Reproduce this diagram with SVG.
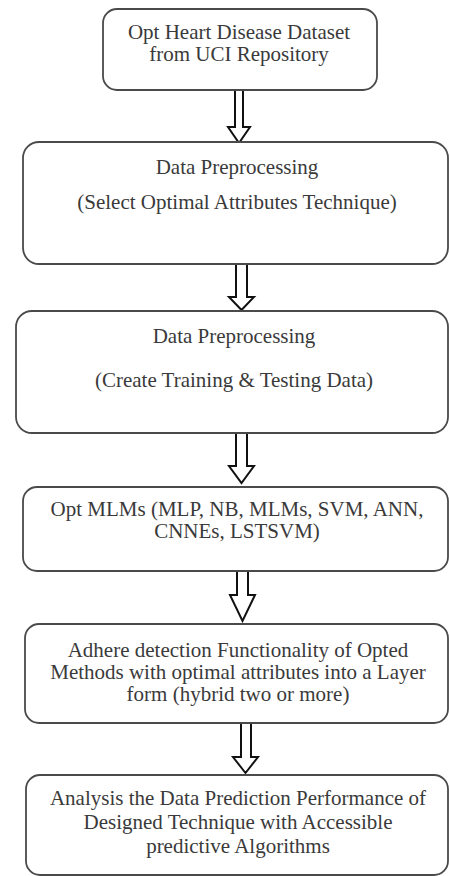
<svg xmlns="http://www.w3.org/2000/svg" width="449" height="876" viewBox="0 0 449 876">
  <style>
    .box { fill: #ffffff; stroke: #4a4a4a; stroke-width: 1.8; }
    .lbl { font-family: "Liberation Serif", "Times New Roman", serif; font-size: 21px; fill: #3a3a3a; text-anchor: middle; }
    .arrow { fill: #ffffff; stroke: #111111; stroke-width: 2; stroke-linejoin: miter; }
  </style>
  <rect width="449" height="876" fill="#ffffff"/>

  <g id="connectors">
    <!-- hollow block arrows between stages -->
    <path class="arrow" d="M235,90 L243,90 L243,127 L250,127 L239,143 L228,127 L235,127 Z"/>
    <path class="arrow" d="M236,264 L247,264 L247,297 L254,297 L241.5,310 L229,297 L236,297 Z"/>
    <path class="arrow" d="M236,433 L247,433 L247,466 L254,466 L241.5,483 L229,466 L236,466 Z"/>
    <path class="arrow" d="M237,571 L248,571 L248,595 L255,595 L242.5,621 L230,595 L237,595 Z"/>
    <path class="arrow" d="M241,723 L251,723 L251,757 L258,757 L245.5,773 L233,757 L241,757 Z"/>
  </g>

  <g id="dataset">
    <rect class="box" x="103" y="9" width="274" height="81" rx="14"/>
    <text class="lbl" x="239" y="39">Opt Heart Disease Dataset</text>
    <text class="lbl" x="239" y="61">from UCI Repository</text>
  </g>

  <g id="preprocess-select">
    <rect class="box" x="23" y="142" width="425" height="122" rx="16"/>
    <text class="lbl" x="237" y="174">Data Preprocessing</text>
    <text class="lbl" x="237" y="209">(Select Optimal Attributes Technique)</text>
  </g>

  <g id="preprocess-split">
    <rect class="box" x="16" y="311" width="432" height="122" rx="16"/>
    <text class="lbl" x="234" y="343">Data Preprocessing</text>
    <text class="lbl" x="234" y="387">(Create Training &amp; Testing Data)</text>
  </g>

  <g id="models">
    <rect class="box" x="23" y="487" width="425" height="84" rx="14"/>
    <text class="lbl" x="237" y="516">Opt MLMs (MLP, NB, MLMs, SVM, ANN,</text>
    <text class="lbl" x="237" y="538">CNNEs, LSTSVM)</text>
  </g>

  <g id="hybrid">
    <rect class="box" x="25" y="624" width="423" height="99" rx="14"/>
    <text class="lbl" x="238" y="657">Adhere detection Functionality of Opted</text>
    <text class="lbl" x="238" y="679">Methods with optimal attributes into a Layer</text>
    <text class="lbl" x="238" y="701">form (hybrid two or more)</text>
  </g>

  <g id="analysis">
    <rect class="box" x="26" y="775" width="422" height="100" rx="14"/>
    <text class="lbl" x="238" y="805">Analysis the Data Prediction Performance of</text>
    <text class="lbl" x="238" y="829">Designed Technique with Accessible</text>
    <text class="lbl" x="238" y="853">predictive Algorithms</text>
  </g>
</svg>
